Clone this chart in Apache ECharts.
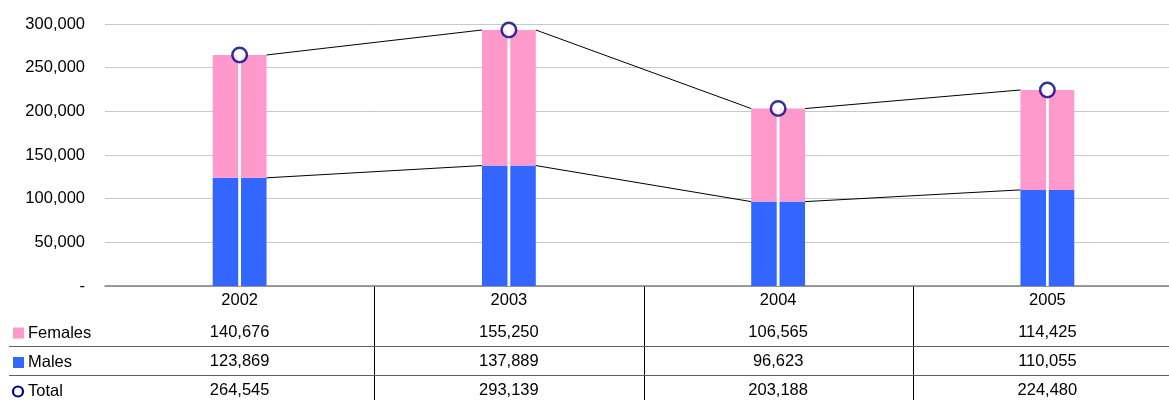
<!DOCTYPE html>
<html><head><meta charset="utf-8">
<script src="https://cdn.jsdelivr.net/npm/echarts@6/dist/echarts.min.js"></script>
<style>html,body{margin:0;padding:0;background:#fff}#c{width:1169px;height:400px}</style>
</head><body><div id="c"></div>
<script>
const years = ['2002','2003','2004','2005'];
const females = [140676, 155250, 106565, 114425];
const males = [123869, 137889, 96623, 110055];
const totals = [264545, 293139, 203188, 224480];
const yTicks = [0, 50000, 100000, 150000, 200000, 250000, 300000];

const FONT = '"Liberation Sans", Arial, sans-serif';
const FS = 16.5;
const fmt = v => v === 0 ? '-' : v.toLocaleString('en-US');
const chart = echarts.init(document.getElementById('c'));
const BARW = 0.2;

const option = {
  animation: false,
  grid: {left: 105, width: 1077, top: 24, bottom: 114, outerBoundsMode: 'none', containLabel: false},
  xAxis: {
    type: 'category', data: years, boundaryGap: true,
    axisLine: {lineStyle: {color: '#808080', width: 1.5}},
    axisTick: {show: false},
    axisLabel: {show: true, margin: 6, color: '#000', fontFamily: FONT, fontSize: FS, interval: 0},
    splitLine: {show: false}
  },
  yAxis: {
    type: 'value', min: yTicks[0], max: yTicks[yTicks.length - 1], interval: 50000,
    axisLine: {show: false}, axisTick: {show: false},
    axisLabel: {color: '#000', fontFamily: FONT, fontSize: FS, margin: 20, formatter: fmt},
    splitLine: {lineStyle: {color: '#c8c8c8', width: 1}}
  },
  series: [
    {name: 'Males', type: 'bar', stack: 's', data: males, barWidth: '20%',
      itemStyle: {color: '#3366FF'}, z: 2},
    {name: 'Females', type: 'bar', stack: 's', data: females, barWidth: '20%',
      itemStyle: {color: '#FF99CC'}, z: 2},
    {name: 'seriesLines', type: 'custom', z: 3, silent: true,
      data: years.map((y, i) => [i]),
      renderItem: (params, api) => {
        const i = api.value(0);
        if (i >= years.length - 1) return null;
        const half = api.size([1, 0])[0] * BARW / 2;
        const children = [males, totals].map(arr => {
          const p1 = api.coord([i, arr[i]]);
          const p2 = api.coord([i + 1, arr[i + 1]]);
          return {type: 'line', shape: {x1: p1[0] + half, y1: p1[1], x2: p2[0] - half, y2: p2[1]},
            style: {stroke: '#000', lineWidth: 1}};
        });
        return {type: 'group', children};
      }},
    {name: 'drop', type: 'custom', z: 4, silent: true,
      data: totals.map((t, i) => [i, t]),
      renderItem: (params, api) => {
        const top = api.coord([api.value(0), api.value(1)]);
        const bot = api.coord([api.value(0), 0]);
        return {type: 'rect', shape: {x: top[0] - 1.4, y: top[1], width: 2.8, height: bot[1] - top[1]},
          style: {fill: '#fff'}};
      }},
    {name: 'Total', type: 'scatter', data: totals, z: 5, symbol: 'circle', symbolSize: 14.5,
      itemStyle: {color: '#fff', borderColor: '#000080', borderWidth: 2.5}}
  ]
};
chart.setOption(option);

// data table below the axis
const rows = [
  {name: 'Females', vals: females, y: 332, key: 'sq', color: '#FF99CC'},
  {name: 'Males', vals: males, y: 361.5, key: 'sq', color: '#3366FF'},
  {name: 'Total', vals: totals, y: 390, key: 'circ', color: '#000080'}
];
const g = [];
const cx = years.map(y => chart.convertToPixel({xAxisIndex: 0}, y));
rows.forEach(r => {
  if (r.key === 'sq') g.push({type: 'rect', shape: {x: 13, y: r.y - 4.5, width: 11, height: 11}, style: {fill: r.color}});
  else g.push({type: 'circle', shape: {cx: 18, cy: r.y + 1.5, r: 5}, style: {fill: '#fff', stroke: r.color, lineWidth: 2.2}});
  g.push({type: 'text', x: 28, y: r.y + 1, style: {text: r.name, font: FS + 'px ' + FONT, fill: '#000', textVerticalAlign: 'middle'}});
  r.vals.forEach((v, i) => {
    g.push({type: 'text', x: cx[i], y: r.y, style: {text: fmt(v), font: FS + 'px ' + FONT, fill: '#000', textAlign: 'center', textVerticalAlign: 'middle'}});
  });
});
for (let i = 0; i < cx.length - 1; i++) {
  const x = Math.round((cx[i] + cx[i + 1]) / 2) + 0.5;
  g.push({type: 'line', shape: {x1: x, y1: 286, x2: x, y2: 400}, style: {stroke: '#000', lineWidth: 1}});
}
[346.5, 375.5].forEach(y => g.push({type: 'line', shape: {x1: 9, y1: y, x2: 1169, y2: y}, style: {stroke: '#606060', lineWidth: 1.2}}));
chart.setOption({graphic: g});
</script></body></html>
